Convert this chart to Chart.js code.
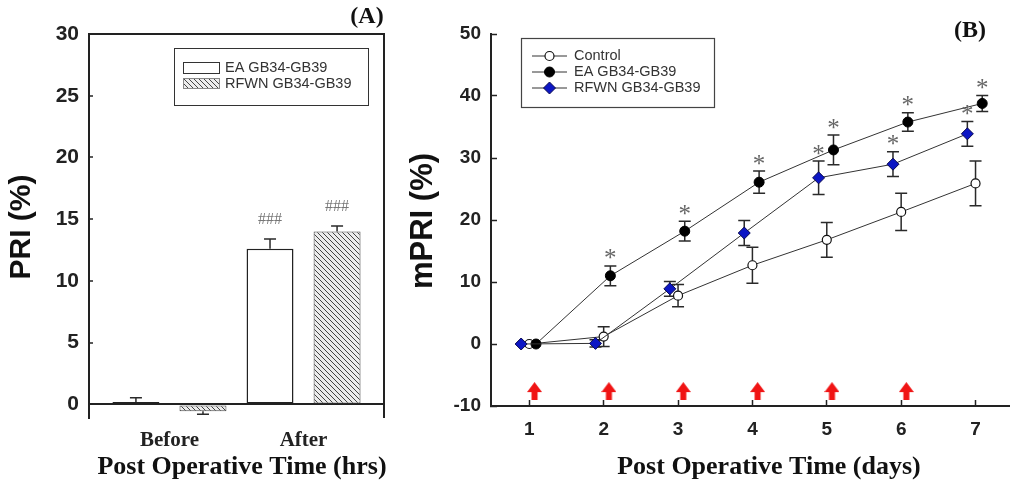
<!DOCTYPE html>
<html>
<head>
<meta charset="utf-8">
<script src="https://cdn.jsdelivr.net/npm/chart.js@4.4.1/dist/chart.umd.min.js"></script>
<style>
  html, body { margin: 0; padding: 0; background: #fff; overflow: hidden; }
  #wrapA { position: absolute; left: 0; top: 0; width: 400px; height: 488px; }
  #wrapB { position: absolute; left: 400px; top: 0; width: 618px; height: 488px; }
</style>
</head>
<body>
<div id="wrapA"><canvas id="chartA" width="400" height="488"></canvas></div>
<div id="wrapB"><canvas id="chartB" width="618" height="488"></canvas></div>
<script>
// panel A - PRI before / after
var timeLabels = ['Before', 'After'];
var eaPri = [0.2, 12.6];
var eaPriErr = [0.35, 0.8];
var rfwnPri = [-0.55, 14.0];
var rfwnPriErr = [0.25, 0.45];
var eaPriMarks = ['', '###'];
var rfwnPriMarks = ['', '###'];
var priTicks = [0, 5, 10, 15, 20, 25, 30];

// panel B - mPRI per day
var days = [1, 2, 3, 4, 5, 6, 7];
var controlMpri = [0, 1.2, 7.8, 12.7, 16.8, 21.3, 25.9];
var controlErr = [0, 1.6, 1.8, 2.9, 2.8, 3.0, 3.6];
var eaMpri = [0, 11.0, 18.2, 26.1, 31.3, 35.8, 38.8];
var eaErr = [0, 1.6, 1.6, 1.8, 2.4, 1.5, 1.3];
var rfwnMpri = [0, 0.1, 8.9, 17.9, 26.8, 29.0, 33.9];
var rfwnErr = [0, 0.6, 1.2, 2.0, 2.7, 2.0, 2.0];
var eaStars = [0, 1, 1, 1, 1, 1, 1];
var rfwnStars = [0, 0, 0, 0, 1, 1, 1];
var controlStars = [0, 0, 0, 0, 0, 0, 0];
var arrowDays = [1, 2, 3, 4, 5, 6];
var arrowLevel = -7.6;
var mpriTicks = [-10, 0, 10, 20, 30, 40, 50];

Chart.defaults.font.family = '"Liberation Sans", Arial, sans-serif';
Chart.defaults.color = '#222';

var barX = timeLabels.map(function (t, i) { return i + 1; });

function toPoints(xs, ys, shift) {
    return ys.map(function (v, i) { return { x: xs[i] + shift, y: v }; });
}

//hatched fill for the RFWN bars
function hatchPattern(ctx) {
    var c = document.createElement('canvas');
    c.width = 5; c.height = 5;
    var g = c.getContext('2d');
    g.fillStyle = '#ececec';
    g.fillRect(0, 0, 5, 5);
    g.strokeStyle = '#444';
    g.lineWidth = 1;
    g.beginPath();
    g.moveTo(-1, -1); g.lineTo(6, 6);
    g.moveTo(-1, 4); g.lineTo(1, 6);
    g.moveTo(4, -1); g.lineTo(6, 1);
    g.stroke();
    return ctx.createPattern(c, 'repeat');
}

//red arrow marker
function arrowIcon() {
    var c = document.createElement('canvas');
    c.width = 15; c.height = 18;
    var g = c.getContext('2d');
    g.fillStyle = '#f01414';
    g.beginPath();
    g.moveTo(7.5, 0); g.lineTo(15, 10); g.lineTo(0, 10);
    g.closePath();
    g.fill();
    g.fillRect(4.5, 9, 6, 9);
    return c;
}

function drawErrors(chart, bothWays) {
    var ctx = chart.ctx;
    var yScale = chart.scales.y;
    ctx.save();
    ctx.strokeStyle = '#2a2a2a';
    ctx.lineWidth = 1.5;
    chart.data.datasets.forEach(function (ds, di) {
        if (!ds.errors) return;
        var meta = chart.getDatasetMeta(di);
        meta.data.forEach(function (el, i) {
            var v = ds.data[i].y, e = ds.errors[i];
            if (!e) return;
            var ends = bothWays ? [v + e, v - e] : [v < 0 ? v - e : v + e];
            ends.forEach(function (end) {
                var y0 = yScale.getPixelForValue(v), y1 = yScale.getPixelForValue(end);
                ctx.beginPath();
                ctx.moveTo(el.x, y0); ctx.lineTo(el.x, y1);
                ctx.moveTo(el.x - 6, y1); ctx.lineTo(el.x + 6, y1);
                ctx.stroke();
            });
        });
    });
    ctx.restore();
}

function drawMarks(chart, font, color, gap) {
    var ctx = chart.ctx;
    var yScale = chart.scales.y;
    ctx.save();
    ctx.font = font;
    ctx.fillStyle = color;
    ctx.textAlign = 'center';
    ctx.textBaseline = 'middle';
    chart.data.datasets.forEach(function (ds, di) {
        if (!ds.marks) return;
        var meta = chart.getDatasetMeta(di);
        meta.data.forEach(function (el, i) {
            var m = ds.marks[i];
            if (!m) return;
            if (m === 1) m = '*';
            var top = yScale.getPixelForValue(ds.data[i].y + ds.errors[i]);
            ctx.fillText(m, el.x, top - gap);
        });
    });
    ctx.restore();
}

function text(ctx, str, x, y, font, rot) {
    ctx.save();
    ctx.translate(x, y);
    if (rot) ctx.rotate(rot);
    ctx.font = font;
    ctx.fillStyle = '#111';
    ctx.textAlign = 'center';
    ctx.textBaseline = 'middle';
    ctx.fillText(str, 0, 0);
    ctx.restore();
}

var serifBold = '"Liberation Serif", "Times New Roman", serif';
var sansBold = '"Liberation Sans", Arial, sans-serif';

// ---------- chart A ----------
var ctxA = document.getElementById('chartA').getContext('2d');
var hatch = hatchPattern(ctxA);

var decorA = {
    id: 'decorA',
    afterDatasetsDraw: function (chart) {
        drawErrors(chart, false);
        drawMarks(chart, '16px ' + serifBold, '#777', 19);
    },
    afterDraw: function (chart) {
        var ctx = chart.ctx, a = chart.chartArea;
        ctx.save();
        ctx.strokeStyle = '#222';
        ctx.lineWidth = 2;
        ctx.beginPath();
        ctx.moveTo(a.left, a.top); ctx.lineTo(a.right, a.top); ctx.lineTo(a.right, a.bottom);
        ctx.stroke();

        //legend
        ctx.lineWidth = 1;
        ctx.strokeStyle = '#333';
        ctx.strokeRect(174.5, 48.5, 194, 57);
        var ds = chart.data.datasets;
        ctx.fillStyle = '#fff';
        ctx.fillRect(183.5, 62.5, 36, 11);
        ctx.strokeRect(183.5, 62.5, 36, 11);
        ctx.fillStyle = hatch;
        ctx.fillRect(183.5, 78.5, 36, 10);
        ctx.strokeStyle = '#888';
        ctx.strokeRect(183.5, 78.5, 36, 10);
        ctx.font = '14.5px "Liberation Sans", Arial, sans-serif';
        ctx.fillStyle = '#333';
        ctx.textBaseline = 'middle';
        ctx.fillText(ds[0].label, 225, 68);
        ctx.fillText(ds[1].label, 225, 84);
        ctx.restore();

        text(ctx, 'PRI (%)', 22, 227, 'bold 30px ' + sansBold, -Math.PI / 2);
        text(ctx, 'Post Operative Time (hrs)', 242, 467, 'bold 26px ' + serifBold);
        text(ctx, '(A)', 367, 17, 'bold 24px ' + serifBold);
    }
};

var chartA = new Chart(ctxA, {
    type: 'bar',
    data: {
        datasets: [{
            label: 'EA GB34-GB39',
            data: toPoints(barX, eaPri, 0),
            errors: eaPriErr,
            marks: eaPriMarks,
            backgroundColor: '#fff',
            borderColor: '#222',
            borderWidth: 1.5,
            borderSkipped: false,
            barPercentage: 0.7,
            categoryPercentage: 1.0
        }, {
            label: 'RFWN GB34-GB39',
            data: toPoints(barX, rfwnPri, 0),
            errors: rfwnPriErr,
            marks: rfwnPriMarks,
            backgroundColor: hatch,
            borderColor: '#444',
            borderWidth: 1,
            borderSkipped: false,
            barPercentage: 0.7,
            categoryPercentage: 1.0
        }]
    },
    options: {
        responsive: false,
        animation: false,
        devicePixelRatio: 1,
        layout: { padding: { top: 34, right: 16, left: 0, bottom: 0 } },
        plugins: { legend: { display: false }, tooltip: { enabled: false } },
        scales: {
            x: {
                type: 'linear',
                min: 0.4,
                max: 2.6,
                offset: false,
                afterBuildTicks: function (axis) { axis.ticks = barX.map(function (v) { return { value: v }; }); },
                afterFit: function (axis) { axis.height = 70; },
                grid: { display: false },
                border: { display: false },
                ticks: {
                    callback: function (v) { return timeLabels[v - 1] || ''; },
                    font: { family: serifBold, weight: 'bold', size: 21 },
                    color: '#222',
                    padding: 2,
                    maxRotation: 0,
                    autoSkip: false
                }
            },
            y: {
                min: -1.1,
                max: 30,
                afterBuildTicks: function (axis) { axis.ticks = priTicks.map(function (v) { return { value: v }; }); },
                afterFit: function (axis) { axis.width = 89; },
                grid: {
                    color: function (c) { return c.tick && c.tick.value === 0 ? '#222' : 'rgba(0,0,0,0)'; },
                    lineWidth: 2,
                    tickColor: '#222',
                    tickWidth: 1.5,
                    tickLength: -4
                },
                border: { color: '#222', width: 2 },
                ticks: {
                    font: { family: sansBold, weight: 'bold', size: 21 },
                    color: '#222',
                    padding: 14
                }
            }
        }
    },
    plugins: [decorA]
});

// ---------- chart B ----------
var ctxB = document.getElementById('chartB').getContext('2d');

var decorB = {
    id: 'decorB',
    beforeDatasetsDraw: function (chart) {
        drawErrors(chart, true);
    },
    afterDatasetsDraw: function (chart) {
        drawMarks(chart, '25px ' + serifBold, '#666', 6);
    },
    afterDraw: function (chart) {
        var ctx = chart.ctx;
        ctx.save();
        //legend
        ctx.lineWidth = 1.2;
        ctx.strokeStyle = '#444';
        ctx.strokeRect(121.5, 38.5, 193, 69);
        var rows = [56, 72, 88];
        ctx.font = '14.5px "Liberation Sans", Arial, sans-serif';
        ctx.textBaseline = 'middle';
        chart.data.datasets.slice(0, 3).forEach(function (ds, i) {
            var y = rows[i];
            ctx.strokeStyle = '#333';
            ctx.lineWidth = 1;
            ctx.beginPath();
            ctx.moveTo(132, y); ctx.lineTo(167, y);
            ctx.stroke();
            ctx.fillStyle = ds.pointBackgroundColor;
            ctx.strokeStyle = ds.pointBorderColor;
            ctx.lineWidth = ds.pointBorderWidth;
            Chart.helpers.drawPoint(ctx, {
                pointStyle: ds.pointStyle,
                radius: ds.pointRadius,
                borderWidth: ds.pointBorderWidth,
                rotation: 0
            }, 149.5, y);
            ctx.fillStyle = '#333';
            ctx.fillText(ds.label, 174, y);
        });
        ctx.restore();

        text(ctx, 'mPRI (%)', 23, 221, 'bold 31px ' + sansBold, -Math.PI / 2);
        text(ctx, 'Post Operative Time (days)', 369, 467, 'bold 26px ' + serifBold);
        text(ctx, '(B)', 570, 31, 'bold 24px ' + serifBold);
    }
};

var lineStyle = { borderColor: '#333', borderWidth: 1, showLine: true, tension: 0 };

var chartB = new Chart(ctxB, {
    type: 'line',
    data: {
        datasets: [
            Object.assign({
                label: 'Control',
                data: toPoints(days, controlMpri, 0),
                errors: controlErr,
                marks: controlStars,
                pointStyle: 'circle',
                pointRadius: 4.5,
                pointBackgroundColor: '#fff',
                pointBorderColor: '#111',
                pointBorderWidth: 1.2,
                order: 3
            }, lineStyle),
            Object.assign({
                label: 'EA GB34-GB39',
                data: toPoints(days, eaMpri, 0.09),
                errors: eaErr,
                marks: eaStars,
                pointStyle: 'circle',
                pointRadius: 5,
                pointBackgroundColor: '#000',
                pointBorderColor: '#000',
                pointBorderWidth: 1,
                order: 2
            }, lineStyle),
            Object.assign({
                label: 'RFWN GB34-GB39',
                data: toPoints(days, rfwnMpri, -0.11),
                errors: rfwnErr,
                marks: rfwnStars,
                pointStyle: 'rectRot',
                pointRadius: 6,
                pointBackgroundColor: '#0c16c4',
                pointBorderColor: '#0a0a50',
                pointBorderWidth: 1,
                order: 1
            }, lineStyle),
            {
                label: 'arrows',
                data: arrowDays.map(function (d) { return { x: d + 0.07, y: arrowLevel }; }),
                showLine: false,
                pointStyle: arrowIcon(),
                pointRadius: 8
            }
        ]
    },
    options: {
        responsive: false,
        animation: false,
        devicePixelRatio: 1,
        layout: { padding: { top: 34, right: 0, left: 0, bottom: 0 } },
        plugins: { legend: { display: false }, tooltip: { enabled: false } },
        scales: {
            x: {
                type: 'linear',
                min: 0.485,
                max: 7.45,
                afterBuildTicks: function (axis) { axis.ticks = days.map(function (v) { return { value: v }; }); },
                afterFit: function (axis) { axis.height = 82; },
                grid: { drawOnChartArea: false, tickColor: '#222', tickWidth: 1.5, tickLength: -6 },
                border: { color: '#222', width: 2 },
                ticks: {
                    font: { family: sansBold, weight: 'bold', size: 19 },
                    color: '#222',
                    padding: 18,
                    maxRotation: 0,
                    autoSkip: false
                }
            },
            y: {
                min: -10,
                max: 50,
                afterBuildTicks: function (axis) { axis.ticks = mpriTicks.map(function (v) { return { value: v }; }); },
                afterFit: function (axis) { axis.width = 91; },
                grid: { drawOnChartArea: false, tickColor: '#222', tickWidth: 1.5, tickLength: -6 },
                border: { color: '#222', width: 2 },
                ticks: {
                    font: { family: sansBold, weight: 'bold', size: 19 },
                    color: '#222',
                    padding: 16
                }
            }
        }
    },
    plugins: [decorB]
});
</script>
</body>
</html>
